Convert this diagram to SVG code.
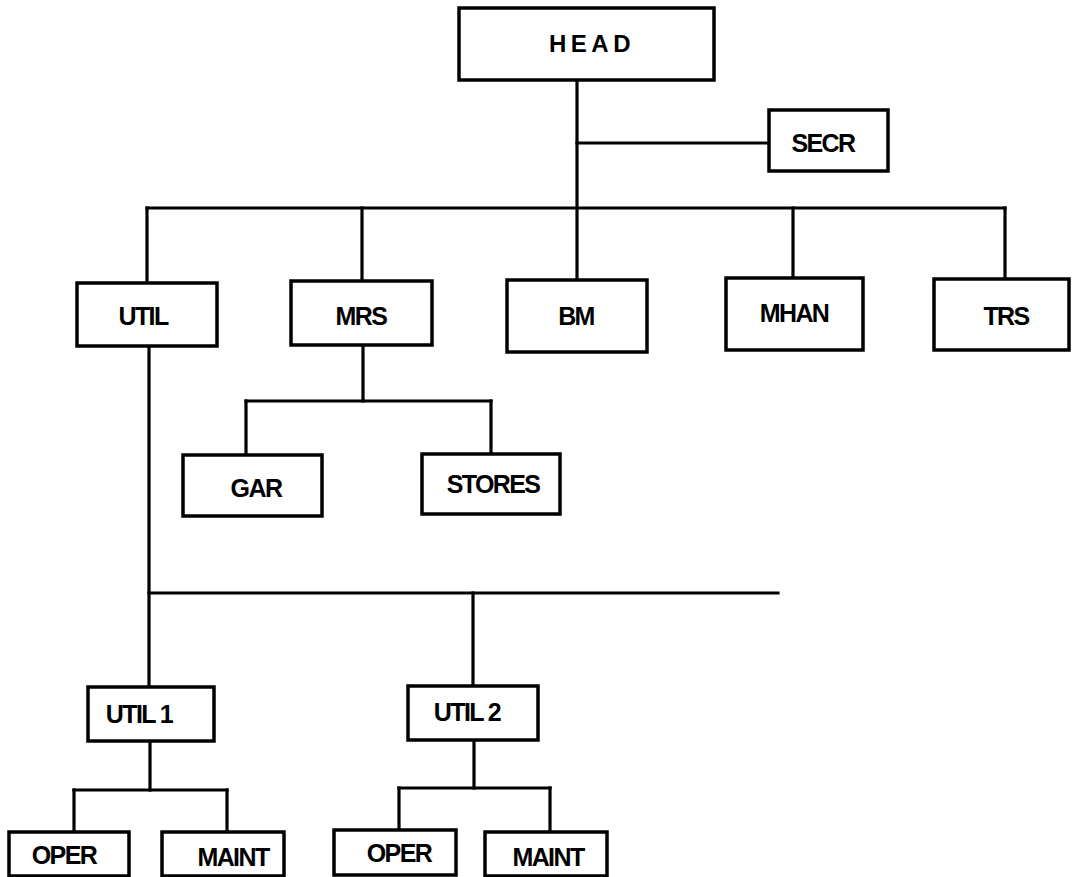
<svg xmlns="http://www.w3.org/2000/svg" width="1072" height="877" viewBox="0 0 1072 877">
<style>
.box{fill:#fff;stroke:#000;stroke-width:3.5}
.ln{stroke:#000;stroke-width:3.2;fill:none;stroke-linecap:square}
.t{font-family:"Liberation Sans",Arial,sans-serif;font-weight:bold;font-size:25px;fill:#000;text-anchor:middle;dominant-baseline:central;letter-spacing:-1.6px}
.h{font-size:24px;letter-spacing:4.5px}
</style>
<rect width="1072" height="877" fill="#fff"/>
<g id="connectors">
<path class="ln" d="M577,80 V280"/>
<path class="ln" d="M577,143 H769"/>
<path class="ln" d="M147,208 H1005"/>
<path class="ln" d="M147,208 V283"/>
<path class="ln" d="M362,208 V281"/>
<path class="ln" d="M793,208 V278"/>
<path class="ln" d="M1005,208 V279"/>
<path class="ln" d="M363,345 V401"/>
<path class="ln" d="M246,401 H491"/>
<path class="ln" d="M246,401 V455"/>
<path class="ln" d="M491,401 V454"/>
<path class="ln" d="M149,346 V687"/>
<path class="ln" d="M149,593 H778"/>
<path class="ln" d="M473,593 V686"/>
<path class="ln" d="M150,741 V790"/>
<path class="ln" d="M74,790 H227"/>
<path class="ln" d="M74,790 V832"/>
<path class="ln" d="M227,790 V832"/>
<path class="ln" d="M474,740 V788"/>
<path class="ln" d="M399,788 H550"/>
<path class="ln" d="M399,788 V830"/>
<path class="ln" d="M550,788 V832"/>
</g>
<g id="head"><rect class="box" x="459" y="8" width="255" height="72"/><text class="t h" x="592" y="43">HEAD</text></g>
<g id="secr"><rect class="box" x="769" y="110" width="119" height="61"/><text class="t" x="823" y="143">SECR</text></g>
<g id="util"><rect class="box" x="77" y="283" width="140" height="63"/><text class="t" x="143" y="316">UTIL</text></g>
<g id="mrs"><rect class="box" x="291" y="281" width="141" height="64"/><text class="t" x="361" y="316">MRS</text></g>
<g id="bm"><rect class="box" x="507" y="280" width="140" height="72"/><text class="t" x="576" y="316">BM</text></g>
<g id="mhan"><rect class="box" x="726" y="278" width="137" height="72"/><text class="t" x="794" y="313">MHAN</text></g>
<g id="trs"><rect class="box" x="934" y="279" width="135" height="71"/><text class="t" x="1006" y="316">TRS</text></g>
<g id="gar"><rect class="box" x="183" y="455" width="139" height="61"/><text class="t" x="256" y="488">GAR</text></g>
<g id="stores"><rect class="box" x="422" y="454" width="138" height="60"/><text class="t" x="493" y="484">STORES</text></g>
<g id="util1"><rect class="box" x="88" y="687" width="126" height="54"/><text class="t" x="139" y="714">UTIL 1</text></g>
<g id="util2"><rect class="box" x="408" y="686" width="130" height="54"/><text class="t" x="467" y="712">UTIL 2</text></g>
<g id="oper1"><rect class="box" x="9" y="832" width="120" height="44"/><text class="t" x="64" y="855">OPER</text></g>
<g id="maint1"><rect class="box" x="162" y="832" width="122" height="44"/><text class="t" x="233" y="857">MAINT</text></g>
<g id="oper2"><rect class="box" x="334" y="830" width="122" height="45"/><text class="t" x="399" y="853">OPER</text></g>
<g id="maint2"><rect class="box" x="485" y="832" width="122" height="44"/><text class="t" x="548" y="857">MAINT</text></g>
</svg>
